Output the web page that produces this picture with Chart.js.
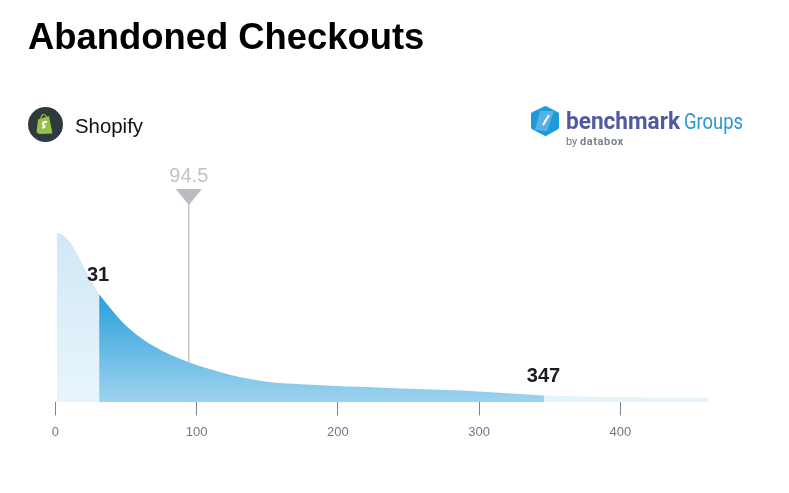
<!DOCTYPE html>
<html lang="en">
<head>
<meta charset="UTF-8">
<title>Abandoned Checkouts</title>
<script src="https://cdn.jsdelivr.net/npm/chart.js@4"></script>
<style>
    html, body { margin: 0; padding: 0; background: #fff; }
    body { width: 789px; height: 493px; position: relative; overflow: hidden; font-family: "Liberation Sans", Arial, sans-serif; }
    h1 { position: absolute; left: 28px; top: 17px; margin: 0; font-size: 36.4px; line-height: 40px; font-weight: bold; color: #000; white-space: nowrap; }
    #shopify { position: absolute; left: 75px; top: 113px; font-size: 20.4px; line-height: 26px; color: #111; }
    svg { position: absolute; }
    canvas { position: absolute; left: 0; top: 0; }
</style>
</head>
<body>
<canvas id="chart" width="789" height="493"></canvas>
<h1>Abandoned Checkouts</h1>
<svg style="left:28px;top:107px" width="36" height="36" viewBox="0 0 36 36">
    <circle cx="17.5" cy="17.5" r="17.5" fill="#2f3a3f"/>
    <path d="M10 12.5 L21 9 L24.5 26.5 L11 27 L8.5 25 Z" fill="#95bf47"/>
    <path d="M13 12 C13 7 17 6 18.5 10" fill="none" stroke="#95bf47" stroke-width="1.2"/>
    <path d="M19 15 C16 14 14 16 15.500 18 C17 19.500 17.500 21 14 20.500" fill="none" stroke="#fff" stroke-width="2"/>
</svg>
<div id="shopify">Shopify</div>
<svg style="left:528px;top:100px" width="225" height="52" viewBox="0 0 225 52">
    <path d="M17.500 8 L29 14 L29 27.500 L17.500 34 L5 27.500 L5 14 Z" fill="#1f9ad9" stroke="#1f9ad9" stroke-width="4" stroke-linejoin="round"/>
    <path d="M7 30 L12 11 L26 11 L19 31 Z" fill="#7cc4ea" opacity="0.6"/>
    <path d="M15 25 L21 15" stroke="#fff" stroke-width="2"/>
    <text x="38" y="29" font-family="Roboto" font-weight="bold" font-size="23" fill="#4f5aa3" textLength="114" lengthAdjust="spacingAndGlyphs">benchmark</text>
    <text x="156" y="29" font-family="Roboto" font-size="22" fill="#2a97d5" textLength="59" lengthAdjust="spacingAndGlyphs">Groups</text>
    <text x="38" y="45" font-family="Roboto" font-size="11" fill="#6d7480">by</text>
    <text x="52" y="45" font-family="Roboto" font-weight="bold" font-size="11" fill="#7a808c" letter-spacing="0.6">databox</text>
</svg>
<script>
// Значения
const lowerX = [1, 4, 7, 11, 17, 24, 31];
const lowerY = [169, 168, 165, 159, 144, 125, 108];
const middleX = [31, 39, 49, 61, 75, 94.5, 110, 125, 139, 153, 174, 203, 245, 288, 323, 346];
const middleY = [108, 94, 78, 64, 52, 40, 33, 27, 23, 20, 18, 16, 14, 12, 9, 7];
const upperX = [346, 386, 421, 462];
const upperY = [7, 5.5, 5, 5];
const xTicks = [0, 100, 200, 300, 400];
const medianValue = 94.5;
const lowerLabel = 31;
const upperLabel = 347;
const lowerLabelHeight = 108;
const upperLabelHeight = 7;
const markerHeight = 205;

// Перевёрнутый треугольник над линией медианы
const marker = document.createElement('canvas');
marker.width = 26;
marker.height = 16;
const mctx = marker.getContext('2d');
mctx.fillStyle = '#b9bdc1';
mctx.beginPath();
mctx.moveTo(0, 0);
mctx.lineTo(26, 0);
mctx.lineTo(13, 16);
mctx.closePath();
mctx.fill();

function toPoints(xs, ys) {
    return xs.map((x, i) => ({ x: x, y: ys[i] }));
}

// Вертикальный градиент заливки
function areaGradient(top, bottom, height) {
    return function (context) {
        const { chart } = context;
        if (!chart.chartArea) return bottom;
        const y = chart.scales.y;
        const g = chart.ctx.createLinearGradient(0, y.getPixelForValue(height), 0, y.getPixelForValue(0));
        g.addColorStop(0, top);
        g.addColorStop(1, bottom);
        return g;
    };
}

// Подписи над графиком
const labelsPlugin = {
    id: 'valueLabels',
    afterDatasetsDraw(chart) {
        const { ctx, scales } = chart;
        ctx.save();
        ctx.textAlign = 'center';
        ctx.textBaseline = 'middle';
        ctx.font = 'bold 20px "Liberation Sans"';
        ctx.fillStyle = '#1b1b26';
        ctx.fillText(String(lowerLabel), scales.x.getPixelForValue(lowerLabel) - 1, scales.y.getPixelForValue(lowerLabelHeight) - 19);
        ctx.fillText(String(upperLabel), scales.x.getPixelForValue(upperLabel) - 2, scales.y.getPixelForValue(upperLabelHeight) - 19);
        ctx.font = '20px "Liberation Sans"';
        ctx.fillStyle = '#bfc3c7';
        ctx.fillText(String(medianValue), scales.x.getPixelForValue(medianValue), scales.y.getPixelForValue(markerHeight) - 21);
        ctx.restore();
    }
};

const areaStyle = { showLine: true, fill: 'origin', borderWidth: 0, pointRadius: 0, cubicInterpolationMode: 'monotone' };

new Chart(document.getElementById('chart').getContext('2d'), {
    type: 'scatter',
    data: {
        datasets: [
            Object.assign({ data: toPoints(lowerX, lowerY), backgroundColor: areaGradient('#d0e8f6', '#e9f5fc', 169) }, areaStyle),
            Object.assign({ data: toPoints(middleX, middleY), backgroundColor: areaGradient('#2a9fda', '#9ed3ef', 108) }, areaStyle),
            Object.assign({ data: toPoints(upperX, upperY), backgroundColor: '#e6f3fb' }, areaStyle),
            {
                data: toPoints([medianValue, medianValue], [0, markerHeight]),
                showLine: true,
                fill: false,
                borderColor: 'rgba(130, 138, 145, 0.6)',
                borderWidth: 1.2,
                pointRadius: [0, 8],
                pointStyle: marker
            }
        ]
    },
    options: {
        responsive: false,
        animation: false,
        layout: { padding: { left: 55.3, right: 81, top: 160, bottom: 44 } },
        plugins: { legend: { display: false }, tooltip: { enabled: false } },
        scales: {
            x: {
                type: 'linear',
                min: 0,
                max: 462,
                afterBuildTicks(axis) { axis.ticks = xTicks.map(v => ({ value: v })); },
                border: { display: false },
                grid: { drawOnChartArea: false, tickLength: 13, color: '#7d848a', tickWidth: 1 },
                ticks: { color: '#6f7a82', padding: 9, maxRotation: 0, font: { family: '"Liberation Sans"', size: 13 } }
            },
            y: { display: false, min: 0, max: 242 }
        }
    },
    plugins: [labelsPlugin]
});
</script>
</body>
</html>
